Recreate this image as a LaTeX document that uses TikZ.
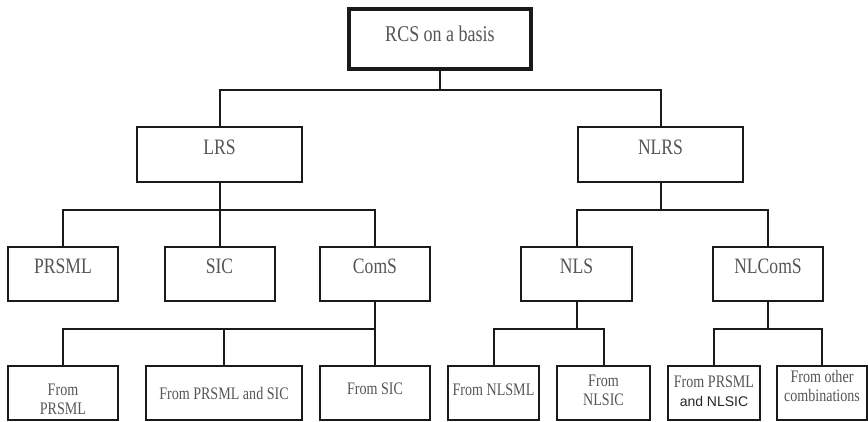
\documentclass[tikz,border=0pt]{standalone}
\usepackage{fontspec}
\setmainfont{Liberation Serif}[FakeStretch=0.8]
\newfontfamily\plainsans{Liberation Sans}
\definecolor{inkline}{HTML}{1A1A1A}
\definecolor{inktext}{HTML}{555555}
\definecolor{inkdark}{HTML}{262626}
% two-line centred label whose baseline is the first line
\newcommand{\twolines}[2]{\begin{tabular}[t]{@{}c@{}}#1\\#2\end{tabular}}
\begin{document}
\begin{tikzpicture}[x=1pt,y=-1pt,
  box/.style={draw=inkline, line width=2pt, rectangle, inner sep=0pt, outer sep=0pt,
              text=inktext, align=center},
  rootbox/.style={box, line width=4.8pt},
  % baseline offset #1 (pt, downward) from the box centre
  basept/.style={text height={15pt+#1pt}, text depth={15pt-#1pt}},
  big/.style={font=\fontsize{22}{26}\selectfont},
  small/.style={font=\fontsize{17.6}{19}\selectfont},
  wire/.style={draw=inkline, line width=2pt}]
\useasboundingbox (0,0) rectangle (868,422);

% level 0
\node[rootbox, big, minimum width=182pt, minimum height=60pt, basept=3,
      font=\fontsize{22.5}{26}\selectfont] (root) at (440,39) {RCS on a basis};

% level 1
\node[box, big, minimum width=165pt, minimum height=55pt, basept=0.5] (lrs) at (219.5,154.5) {LRS};
\node[box, big, minimum width=165pt, minimum height=55pt, basept=0.5] (nlrs) at (660.5,154.5) {NLRS};

% level 2
\node[box, big, minimum width=110pt, minimum height=54pt, basept=0] (prsml) at (63,274) {PRSML};
\node[box, big, minimum width=110pt, minimum height=54pt, basept=0] (sic) at (219.5,274) {SIC};
\node[box, big, minimum width=110pt, minimum height=54pt, basept=0] (coms) at (375,274) {ComS};
\node[box, big, minimum width=111pt, minimum height=54pt, basept=0] (nls) at (576.5,274) {NLS};
\node[box, big, minimum width=110pt, minimum height=54pt, basept=0] (nlcoms) at (768,274) {NLComS};

% level 3
\node[box, small, minimum width=110pt, minimum height=54pt, basept=2] (fa) at (63,393) {\twolines{From}{PRSML}};
\node[box, small, minimum width=156pt, minimum height=54pt, basept=6] (fb) at (224,393) {From PRSML and SIC};
\node[box, small, minimum width=110pt, minimum height=54pt, basept=1] (fc) at (375,393) {From SIC};
\node[box, small, minimum width=91pt, minimum height=54pt, basept=2] (fd) at (493.5,393) {From NLSML};
\node[box, small, minimum width=93pt, minimum height=54pt, basept=-7] (fe) at (603.5,393) {\twolines{From}{NLSIC}};
\node[box, small, minimum width=92pt, minimum height=54pt, basept=-6] (ff) at (714,393)
  {\twolines{From PRSML}{{\plainsans\fontsize{14}{19}\selectfont\color{inkdark}and NLSIC}}};
\node[box, small, minimum width=90pt, minimum height=54pt, basept=-11] (fg) at (822,393) {\twolines{From other}{combinations}};

% bus points of the tree
\coordinate (b0) at (440,90);
\coordinate (b1) at (219.5,210);
\coordinate (b2) at (660.5,210);
\coordinate (b3) at (375,329);
\coordinate (b4) at (576.5,329);
\coordinate (b5) at (768,329);

% connectors
\draw[wire] (root.south) -- (b0);
\draw[wire] (lrs.north) |- (b0) -| (nlrs.north);

\draw[wire] (lrs.south) -- (sic.north);
\draw[wire] (prsml.north) |- (b1) -| (coms.north);

\draw[wire] (nlrs.south) -- (b2);
\draw[wire] (nls.north) |- (b2) -| (nlcoms.north);

\draw[wire] (coms.south) -- (fc.north);
\draw[wire] (fa.north) |- (b3);
\draw[wire] (fb.north) -- (fb.north |- b3);

\draw[wire] (nls.south) -- (b4);
\draw[wire] (fd.north) |- (b4) -| (fe.north);

\draw[wire] (nlcoms.south) -- (b5);
\draw[wire] (ff.north) |- (b5) -| (fg.north);
\end{tikzpicture}
\end{document}
